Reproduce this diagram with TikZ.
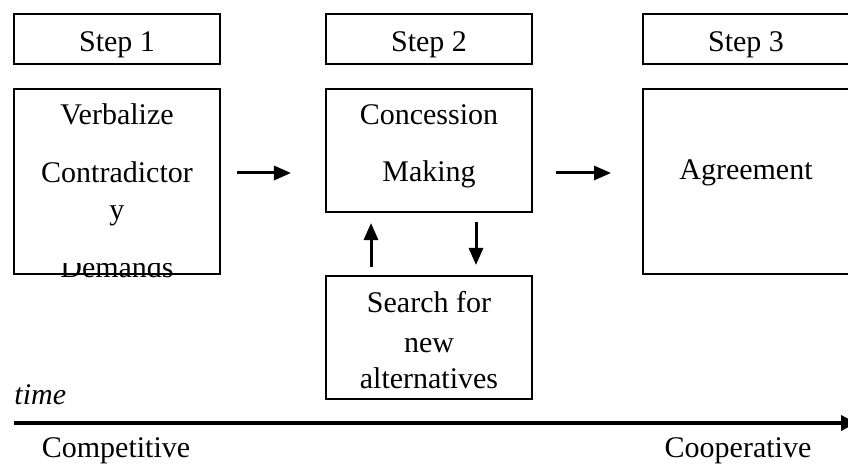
\documentclass[tikz,border=0pt]{standalone}
\usepackage{fontspec}
\setmainfont{Liberation Serif}
\usepackage{tikz}
\usetikzlibrary{arrows.meta,calc}

\begin{document}
\begin{tikzpicture}[x=0.4pt, y=-0.4pt,
    box/.style={draw, line width=0.8pt, minimum width=82.4pt, inner sep=0pt},
    txt/.style={anchor=base, inner sep=0pt, font=\fontsize{12}{14}\selectfont},
    arr/.style={line width=1.2pt, -{Triangle[length=6.8pt,width=5.6pt]}}]
    %%Background
    \useasboundingbox (0,0) rectangle (848,466);

    %% Step headers
    \node[box, minimum height=20pt] (step1) at (117,39) {};
    \node[box, minimum height=20pt] (step2) at (429,39) {};
    \node[box, minimum height=20pt] (step3) at (746,39) {};
    \node[txt] (step1txt) at (117,52) {Step 1};
    \node[txt] (step2txt) at (429,52) {Step 2};
    \node[txt] (step3txt) at (746,52) {Step 3};

    %% Step 1
    \node[txt] (verb1) at (117,125) {Verbalize};
    \node[txt] (verb2) at (117,183) {Contradictor};
    \node[txt] (verb3) at (117,220) {y};
    \begin{scope}
        \clip (14,264) rectangle (220,300);
        \node[txt] (verb4) at (117,278) {Demands};
    \end{scope}
    \node[box, minimum height=74pt] (verb) at (117,181.5) {};

    %% Step 2
    \node[box, minimum height=49.2pt] (conc) at (429,150.5) {};
    \node[txt] (conc1) at (429,125) {Concession};
    \node[txt] (conc2) at (429,182) {Making};
    \node[box, minimum height=49.2pt] (search) at (429,337.5) {};
    \node[txt] (search1) at (429,313) {Search for};
    \node[txt] (search2) at (429,352) {new};
    \node[txt] (search3) at (429,388) {alternatives};

    %% Step 3
    \node[box, minimum height=74pt] (agree) at (746,181.5) {};
    \node[txt] (agree1) at (746,180) {Agreement};

    %% Arrows
    \coordinate (row) at (0,173);
    \coordinate (upx) at (371,0);
    \coordinate (dnx) at (476,0);
    \draw[arr, shorten <=6.4pt, shorten >=13.6pt] (verb.east |- row) -- (conc.west |- row);
    \draw[arr, shorten <=9.2pt, shorten >=12.4pt] (conc.east |- row) -- (agree.west |- row);
    \draw[arr, shorten <=3.2pt, shorten >=4pt] (search.north -| upx) -- (conc.south -| upx);
    \draw[arr, shorten <=3.6pt, shorten >=4pt] (conc.south -| dnx) -- (search.north -| dnx);

    %% Time axis
    \coordinate (tstart) at (14,423);
    \coordinate (tend) at (856,423);
    \draw[line width=1.6pt, -{Triangle[length=6pt,width=6pt]}] (tstart) -- (tend);
    \node[txt, anchor=base west, font=\fontsize{12}{14}\selectfont\itshape] (time) at (14,405) {time};
    \node[txt] (comp) at (116,458) {Competitive};
    \node[txt] (coop) at (738,458) {Cooperative};
\end{tikzpicture}
\end{document}
